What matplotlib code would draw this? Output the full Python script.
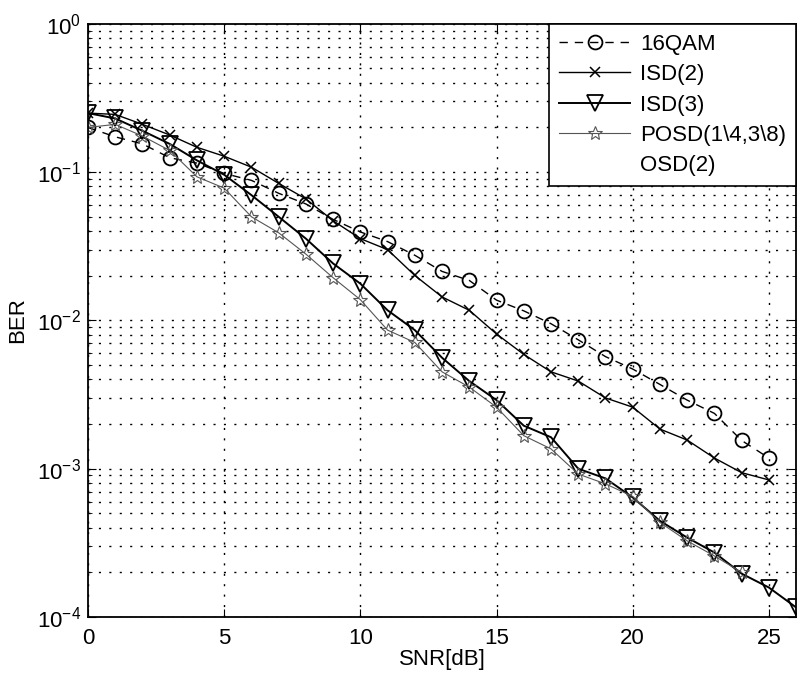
import numpy as np
import matplotlib
matplotlib.use('Agg')
import matplotlib.pyplot as plt
from matplotlib.ticker import LogLocator, NullFormatter

plt.rcParams['font.family'] = ['Liberation Sans', 'DejaVu Sans']

# BER curves
snr_qam = list(range(0, 26))
ber_qam = [0.2, 0.173, 0.155, 0.125, 0.115, 0.098, 0.088, 0.072, 0.061, 0.048,
           0.0395, 0.034, 0.0275, 0.0214, 0.0186, 0.0137, 0.0116, 0.0095, 0.0074,
           0.0057, 0.0047, 0.0037, 0.0029, 0.00236, 0.00155, 0.00118]

snr_isd2 = list(range(0, 26))
ber_isd2 = [0.25, 0.245, 0.21, 0.178, 0.147, 0.128, 0.108, 0.084, 0.066, 0.047,
            0.0356, 0.030, 0.0201, 0.0144, 0.0117, 0.0081, 0.0059, 0.0045, 0.0039,
            0.0030, 0.0026, 0.00185, 0.00156, 0.00118, 0.00094, 0.00084]

snr_isd3 = list(range(0, 27))
ber_isd3 = [0.25, 0.23, 0.19, 0.155, 0.12, 0.096, 0.070, 0.050, 0.0356, 0.0242,
            0.0177, 0.0117, 0.0086, 0.0056, 0.0039, 0.0029, 0.00195, 0.00163, 0.00100,
            0.00086, 0.00064, 0.000445, 0.000343, 0.000272, 0.000196, 0.000158, 0.000116]

snr_posd = list(range(0, 25))
ber_posd = [0.2, 0.21, 0.175, 0.14, 0.093, 0.078, 0.050, 0.039, 0.028, 0.0194,
            0.0138, 0.0086, 0.0071, 0.0045, 0.00355, 0.0026, 0.00167, 0.00136, 0.00092,
            0.00079, 0.00065, 0.000434, 0.000326, 0.000258, 0.0002]

fig = plt.figure(figsize=(7.97, 6.81), dpi=100)
ax = fig.add_axes([0.1104, 0.094, 0.8885, 0.871])

ax.semilogy(snr_qam, ber_qam, color='black', linestyle=(0, (6, 5)), linewidth=1.0,
            marker='o', markersize=10, markerfacecolor='none', markeredgewidth=1.3,
            label='16QAM')
ax.semilogy(snr_isd2, ber_isd2, color='black', linestyle='-', linewidth=1.0,
            marker='x', markersize=7, markeredgewidth=1.1, label='ISD(2)')
ax.semilogy(snr_isd3, ber_isd3, color='black', linestyle='-', linewidth=1.4,
            marker='v', markersize=11, markerfacecolor='none', markeredgewidth=1.3,
            label='ISD(3)')
ax.semilogy(snr_posd, ber_posd, color='#555555', linestyle='-', linewidth=0.8,
            marker='*', markersize=10, markerfacecolor='none', markeredgewidth=0.8,
            label='POSD(1\\4,3\\8)')
ax.plot([], [], linestyle='none', label='OSD(2)')

ax.set_xlim(0, 26)
ax.set_ylim(1e-4, 1)
ax.set_xticks([0, 5, 10, 15, 20, 25])
ax.yaxis.set_major_locator(LogLocator(base=10, numticks=10))
ax.yaxis.set_minor_locator(LogLocator(base=10, subs=np.arange(2, 10), numticks=20))
ax.yaxis.set_minor_formatter(NullFormatter())

ax.grid(True, which='major', axis='both', color='black', linestyle=(0, (1.5, 6)), linewidth=1.0)
ax.grid(True, which='minor', axis='y', color='black', linestyle=(0, (1.5, 6)), linewidth=1.0)

ax.tick_params(which='both', direction='in', top=True, right=True, labelsize=16)
ax.tick_params(axis='x', which='major', pad=8)
ax.tick_params(axis='y', which='major', pad=5)
ax.tick_params(which='major', length=6)
ax.tick_params(which='minor', length=3)
for s in ax.spines.values():
    s.set_linewidth(1.3)

ax.set_xlabel('SNR[dB]', fontsize=16, labelpad=0)
ax.set_ylabel('BER', fontsize=16, labelpad=6)

leg = ax.legend(loc='upper right', fontsize=16, frameon=True, fancybox=False,
                edgecolor='black', framealpha=1, handlelength=3.2, labelspacing=0.42,
                borderaxespad=0.0, handletextpad=0.45, borderpad=0.45)
leg.get_frame().set_linewidth(1.2)

fig.savefig('out.png', dpi=100)
